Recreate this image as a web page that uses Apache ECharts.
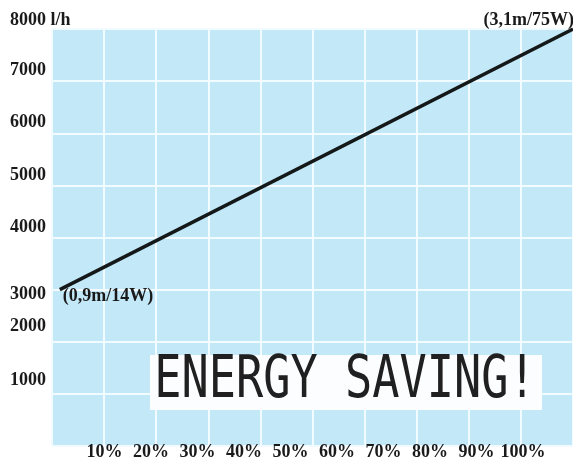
<!DOCTYPE html>
<html>
<head>
<meta charset="utf-8">
<script src="https://cdn.jsdelivr.net/npm/echarts@6/dist/echarts.min.js"></script>
<style>html,body{margin:0;padding:0;background:#fff}#c{width:573px;height:461px}</style>
</head>
<body>
<div id="c"></div>
<script>
// ---- data ----
const yTickValues = [1000, 2000, 3000, 4000, 5000, 6000, 7000, 8000];
const yTickLabels = ['1000', '2000', '3000', '4000', '5000', '6000', '7000', '8000 l/h'];
const xTickValues = [10, 20, 30, 40, 50, 60, 70, 80, 90, 100];
const xTickLabels = ['10%', '20%', '30%', '40%', '50%', '60%', '70%', '80%', '90%', '100%'];
const lineX = [1.5, 100];
const lineY = [3000, 8000];
const pointLabels = ['(0,9m/14W)', '(3,1m/75W)'];
const bannerText = 'ENERGY SAVING!';

// ---- styles ----
const FONT = '"Liberation Serif", "Times New Roman", serif';
const labelShift = {8000: 'u9', 7000: 'u11', 6000: 'u11', 5000: 'u10', 4000: 'u10', 3000: 'd5', 2000: 'u15', 1000: 'u14'};
const rich = {
  u9: {padding: [0, 0, 18, 0]}, u10: {padding: [0, 0, 20, 0]}, u11: {padding: [0, 0, 22, 0]},
  u14: {padding: [0, 0, 28, 0]}, u15: {padding: [0, 0, 30, 0]}, d5: {padding: [10, 0, 0, 0]}
};
Object.keys(rich).forEach(k => Object.assign(rich[k], {fontFamily: FONT, fontWeight: 'bold', fontSize: 18, color: '#1a1a1a'}));

const chart = echarts.init(document.getElementById('c'));
const labelOpts = [
  {position: 'right', offset: [-2, 7]},
  {position: 'left', offset: [6, -9]}
];
const ptLabelStyle = {fontFamily: FONT, fontWeight: 'bold', fontSize: 18, color: '#1a1a1a', opacity: 1};

chart.setOption({
  animation: false,
  grid: [
    {left: 52, right: 0, top: 29, bottom: 15, show: true, backgroundColor: '#c3e8f8', borderWidth: 0},
    {left: 58, width: 511.5, top: 29, bottom: 15, show: false}
  ],
  xAxis: [
    {type: 'value', gridIndex: 0, min: 0, max: 100, interval: 10,
      axisLine: {show: false}, axisTick: {show: false}, axisLabel: {show: false},
      splitLine: {show: true, lineStyle: {color: '#f2fbff', width: 2}}},
    {type: 'value', gridIndex: 1, min: 0, max: 110, interval: 10,
      axisLine: {show: false}, axisTick: {show: false}, splitLine: {show: false},
      axisLabel: {show: true, margin: 7, verticalAlign: 'middle',
        fontFamily: FONT, fontWeight: 'bold', fontSize: 18, color: '#1a1a1a',
        formatter: v => { const i = xTickValues.indexOf(v); return i >= 0 ? xTickLabels[i] : ''; }}}
  ],
  yAxis: [
    {type: 'value', gridIndex: 0, min: 0, max: 8000, interval: 1000,
      axisLine: {show: false}, axisTick: {show: false},
      splitLine: {show: true, lineStyle: {color: '#f2fbff', width: 2}},
      axisLabel: {show: true, align: 'left', margin: 42, rich: rich,
        formatter: v => { const i = yTickValues.indexOf(v); return i >= 0 ? '{' + labelShift[v] + '|' + yTickLabels[i] + '}' : ''; }}},
    {type: 'value', gridIndex: 1, show: false, min: 0, max: 8000}
  ],
  series: [{
    type: 'line', xAxisIndex: 0, yAxisIndex: 0,
    data: lineX.map((x, i) => [x, lineY[i]]),
    symbol: 'none',
    lineStyle: {color: '#141818', width: 3.5},
    z: 5
  }, {
    type: 'scatter', xAxisIndex: 0, yAxisIndex: 0,
    data: lineX.map((x, i) => ({
      value: [x, lineY[i]],
      label: Object.assign({show: true, formatter: pointLabels[i]}, ptLabelStyle, labelOpts[i])
    })),
    symbolSize: 0,
    itemStyle: {color: '#141818', opacity: 1},
    label: ptLabelStyle,
    z: 6
  }],
  graphic: [
    {type: 'rect', shape: {x: 150, y: 355, width: 392, height: 55}, style: {fill: '#fbfdfe'}, z: 10},
    {type: 'text', x: 345, y: 382, scaleX: 0.78, z: 11,
      style: {text: bannerText, font: '400 58px "DejaVu Sans Mono", monospace', fill: '#202020',
        textAlign: 'center', textVerticalAlign: 'middle'}}
  ]
});
</script>
</body>
</html>
